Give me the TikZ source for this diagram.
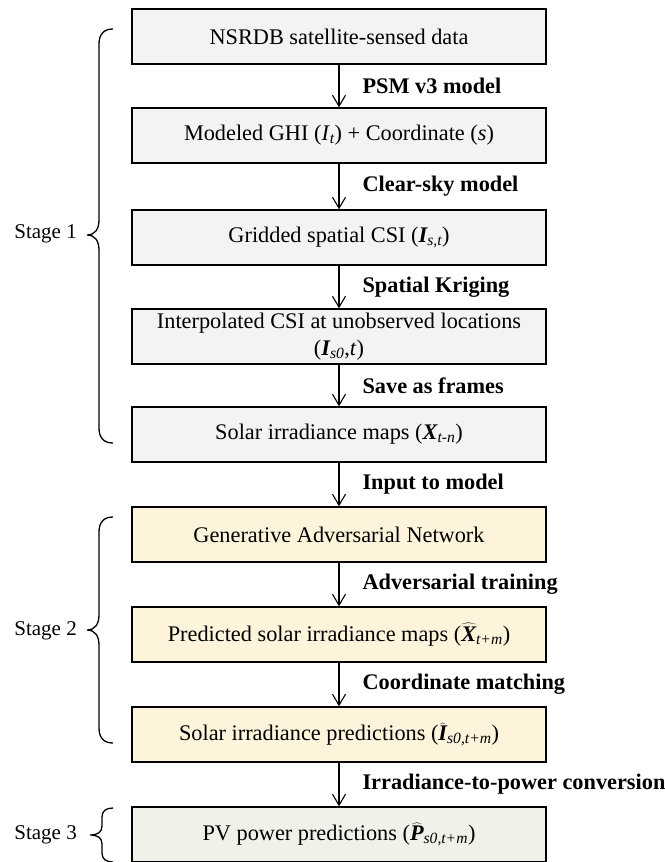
\documentclass[tikz,border=0pt]{standalone}
\usepackage{fontspec}
\setmainfont{Liberation Serif}
\usetikzlibrary{arrows.meta,calc}
\definecolor{grayfill}{RGB}{243,243,243}
\definecolor{yellowfill}{RGB}{254,244,220}
\definecolor{greenfill}{RGB}{239,242,233}
\newcommand{\bivar}[1]{{\bfseries\itshape #1}}
\newcommand{\hatvar}[1]{$\widehat{\hbox{\bfseries\itshape #1}}$}
\newcommand{\subit}[1]{\textsubscript{\itshape #1}}
\begin{document}
\begin{tikzpicture}[x=1pt,y=-1pt,
  box/.style={draw=black, line width=1.4pt, minimum width=414pt, minimum height=55pt,
    inner sep=2pt, font=\fontsize{22.3}{27}\selectfont, align=center},
  sone/.style={box, fill=grayfill},
  stwo/.style={box, fill=yellowfill},
  sthree/.style={box, fill=greenfill},
  lab/.style={font=\fontsize{22.3}{27}\selectfont\bfseries, anchor=west, inner sep=0pt, xshift=23pt},
  arr/.style={-{Straight Barb[length=11pt,width=13pt]}, line width=1.1pt},
  stg/.style={font=\fontsize{21}{25}\selectfont, anchor=east, inner sep=0pt},
  brc/.style={line width=1.3pt}
]
\useasboundingbox (0,0) rectangle (664,862);

\node[sone] (b1) at (339,36.5) {NSRDB satellite-sensed data};
\node[sone] (b2) at (339,135.5) {Modeled GHI (\textit{I}\subit{t}) + Coordinate (\textit{s})};
\node[sone] (b3) at (339,237.5) {Gridded spatial CSI (\bivar{I}\subit{s,t})};
\node[sone] (b4) at (339,336.5) {Interpolated CSI at unobserved locations\\(\bivar{I}\subit{s0},\textit{t})};
\node[sone] (b5) at (339,434.5) {Solar irradiance maps (\bivar{X}\subit{t-n})};
\node[stwo] (b6) at (339,534.5) {Generative Adversarial Network};
\node[stwo] (b7) at (339,634.5) {Predicted solar irradiance maps (\hatvar{X}\subit{t+m})};
\node[stwo] (b8) at (339,734.5) {Solar irradiance predictions (\hatvar{I}\subit{s0,t+m})};
\node[sthree] (b9) at (339,834.5) {PV power predictions (\hatvar{P}\subit{s0,t+m})};

\draw[arr] (b1) -- (b2) node[lab, midway] {PSM v3 model};
\draw[arr] (b2) -- (b3) node[lab, midway] {Clear-sky model};
\draw[arr] (b3) -- (b4) node[lab, midway] {Spatial Kriging};
\draw[arr] (b4) -- (b5) node[lab, midway] {Save as frames};
\draw[arr] (b5) -- (b6) node[lab, midway] {Input to model};
\draw[arr] (b6) -- (b7) node[lab, midway] {Adversarial training};
\draw[arr] (b7) -- (b8) node[lab, midway] {Coordinate matching};
\draw[arr] (b8) -- (b9) node[lab, midway] {Irradiance-to-power conversion};

% braces
\draw[brc] (113,29) .. controls (104,29) and (99,34) .. (99,44) -- (99,220)
  .. controls (99,229) and (95,235) .. (87,235) .. controls (95,235) and (99,241) .. (99,250)
  -- (99,428) .. controls (99,438) and (104,443) .. (113,443);
\draw[brc] (113,517) .. controls (104,517) and (99,522) .. (99,532) -- (99,615)
  .. controls (99,624) and (95,630) .. (87,630) .. controls (95,630) and (99,636) .. (99,645)
  -- (99,728) .. controls (99,738) and (104,743) .. (113,743);
\draw[brc] (113,808) .. controls (106,808) and (102,811) .. (102,817) -- (102,826)
  .. controls (102,832) and (98,835) .. (90,835) .. controls (98,835) and (102,838) .. (102,844)
  -- (102,853) .. controls (102,859) and (106,862) .. (113,862);

\node[stg] (st1) at (77,234) {Stage 1};
\node[stg] (st2) at (77,631) {Stage 2};
\node[stg] (st3) at (77,835) {Stage 3};
\end{tikzpicture}
\end{document}
